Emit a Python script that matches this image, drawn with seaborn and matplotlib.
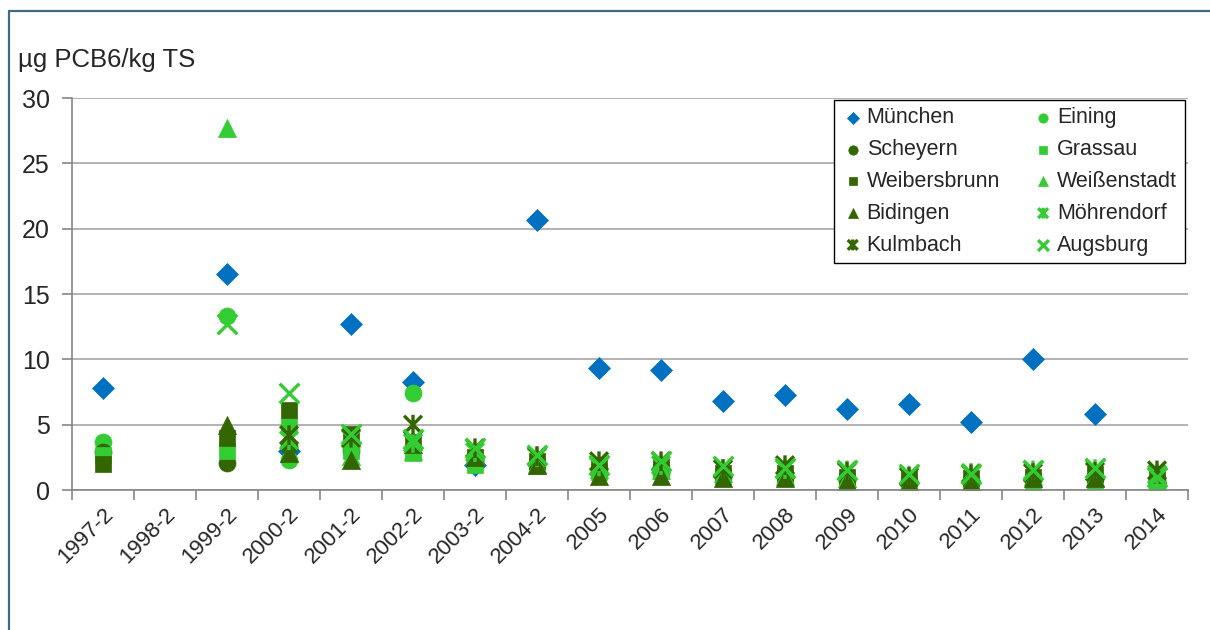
import numpy as np
import pandas as pd
import matplotlib.pyplot as plt
import matplotlib.lines as mlines
from matplotlib.path import Path
import seaborn as sns

# categories on the x axis
periods = ['1997-2', '1998-2', '1999-2', '2000-2', '2001-2', '2002-2', '2003-2', '2004-2',
           '2005', '2006', '2007', '2008', '2009', '2010', '2011', '2012', '2013', '2014']
nan = np.nan

# PCB6 values (µg/kg TS) per station
muenchen = [7.8, nan, 16.5, 3.0, 12.7, 8.3, 1.9, 20.7, 9.3, 9.2, 6.8, 7.3, 6.2, 6.6, 5.2, 10.0, 5.8, nan]
eining = [3.7, nan, 13.3, 2.3, 3.3, 7.4, 2.2, 2.0, 1.5, 1.6, 1.2, 1.2, 1.0, 0.7, 0.8, 0.8, 0.9, 0.6]
scheyern = [2.9, nan, 2.1, 3.4, 3.0, 3.2, 2.3, 2.0, 1.3, 1.3, 1.0, 1.0, 0.8, 0.6, 0.6, 0.9, 0.9, 0.8]
grassau = [2.7, nan, 3.0, 4.9, 3.0, 2.8, 1.9, 1.8, 1.4, 1.5, 1.0, 0.9, 0.7, 0.5, 0.4, 0.6, 0.7, 0.5]
weibersbrunn = [2.0, nan, 4.0, 6.1, 4.3, 3.7, 2.5, 2.2, 1.8, 1.8, 1.3, 1.3, 1.0, 0.9, 0.9, 1.0, 1.2, 1.1]
weissenstadt = [nan, nan, 27.7, 2.8, 2.6, 3.0, 2.6, 2.0, 1.6, 1.5, 1.3, 1.1, 0.9, 0.7, 0.7, 1.1, 1.0, 0.8]
bidingen = [nan, nan, 5.0, 2.8, 2.3, 3.5, 2.5, 1.9, 1.1, 1.1, 0.9, 0.9, 0.7, 0.6, 0.6, 0.9, 0.9, 1.2]
moehrendorf = [nan, nan, nan, 3.8, 3.9, 3.6, 2.9, 2.5, 1.8, 1.9, 1.6, 1.6, 1.5, 1.1, 1.3, 1.5, 1.6, 1.2]
kulmbach = [nan, nan, nan, 4.2, 4.0, 5.0, 3.2, 2.6, 2.2, 2.2, 1.6, 1.9, 1.4, 1.0, 1.2, 1.3, 1.4, 1.5]
augsburg = [nan, nan, 12.7, 7.4, 4.3, 3.9, 3.2, 2.7, 1.9, 2.2, 1.8, 1.7, 1.5, 1.2, 1.2, 1.5, 1.7, 1.0]

blue = '#0070C0'
light = '#33CC33'
dark = '#336600'

# asterisk marker: x with a vertical bar
asterisk = Path([(-0.5, -0.5), (0.5, 0.5), (-0.5, 0.5), (0.5, -0.5), (0, -0.55), (0, 0.55)],
                [Path.MOVETO, Path.LINETO, Path.MOVETO, Path.LINETO, Path.MOVETO, Path.LINETO])

# name, values, color, marker, size, line marker?
series = [
    ('München', muenchen, blue, 'D', 125, False),
    ('Eining', eining, light, 'o', 150, False),
    ('Scheyern', scheyern, dark, 'o', 150, False),
    ('Grassau', grassau, light, 's', 135, False),
    ('Weibersbrunn', weibersbrunn, dark, 's', 135, False),
    ('Weißenstadt', weissenstadt, light, '^', 170, False),
    ('Bidingen', bidingen, dark, '^', 170, False),
    ('Möhrendorf', moehrendorf, light, asterisk, 200, True),
    ('Kulmbach', kulmbach, dark, asterisk, 200, True),
    ('Augsburg', augsburg, light, 'x', 200, True),
]

sns.set_style('white')
plt.rcParams['font.family'] = ['Liberation Sans', 'DejaVu Sans']

fig = plt.figure(figsize=(12.1, 6.3), dpi=100)
ax = fig.add_axes([72 / 1210, 140 / 630, 1116 / 1210, 392 / 630])

for name, vals, col, mk, size, is_line in series:
    df = pd.DataFrame({'period': periods, 'value': vals})
    if is_line:
        sns.scatterplot(data=df, x='period', y='value', marker=mk, s=size, color=col,
                        edgecolor=col, facecolor='none' if mk is asterisk else col,
                        linewidth=2.4, label=name, ax=ax)
    else:
        sns.scatterplot(data=df, x='period', y='value', marker=mk, s=size, color=col,
                        edgecolor=col, linewidth=0.5, label=name, ax=ax)

ax.set_xlim(-0.5, len(periods) - 0.5)
ax.set_ylim(0, 30)
ax.set_yticks(range(0, 31, 5))
ax.set_xlabel('')
ax.set_ylabel('')
ax.grid(axis='y', color='#A6A6A6', linewidth=1.2)
ax.set_axisbelow(True)
for side in ['top', 'right']:
    ax.spines[side].set_visible(False)
for side in ['left', 'bottom']:
    ax.spines[side].set_color('#868686')
    ax.spines[side].set_linewidth(1.2)

ax.set_xticks(range(len(periods)))
ax.set_xticklabels(periods, rotation=45, ha='right', rotation_mode='anchor', fontsize=16)
ax.set_xticks(np.arange(-0.5, len(periods), 1.0), minor=True)
ax.tick_params(axis='x', which='major', length=0, pad=10)
ax.tick_params(axis='x', which='minor', length=7, color='#868686', width=1.2, bottom=True)
ax.tick_params(axis='y', length=7, color='#868686', width=1.2, labelsize=18, pad=9, left=True)

handles, labels = ax.get_legend_handles_labels()
order = [0, 2, 4, 6, 8, 1, 3, 5, 7, 9]
leg = ax.legend([handles[i] for i in order], [labels[i] for i in order], ncol=2,
                loc='upper right', bbox_to_anchor=(0.997, 0.995), borderaxespad=0,
                fontsize=15.5, markerscale=0.55, handletextpad=0.15, handlelength=1.0,
                columnspacing=1.5, labelspacing=0.5, frameon=True, fancybox=False,
                edgecolor='black', framealpha=1, borderpad=0.35)
leg.get_frame().set_linewidth(1.0)

fig.text(18 / 1210, 1 - 60 / 630, 'µg PCB6/kg TS', fontsize=18.5, va='center', ha='left')

# outer frame (left and top edge)
frame_col = '#3E6B82'
fig.add_artist(mlines.Line2D([9 / 1210, 9 / 1210], [0, 1 - 11 / 630], color=frame_col,
                             linewidth=1.6, transform=fig.transFigure))
fig.add_artist(mlines.Line2D([9 / 1210, 1], [1 - 11 / 630, 1 - 11 / 630], color=frame_col,
                             linewidth=1.6, transform=fig.transFigure))

fig.savefig('out.png', dpi=100)
